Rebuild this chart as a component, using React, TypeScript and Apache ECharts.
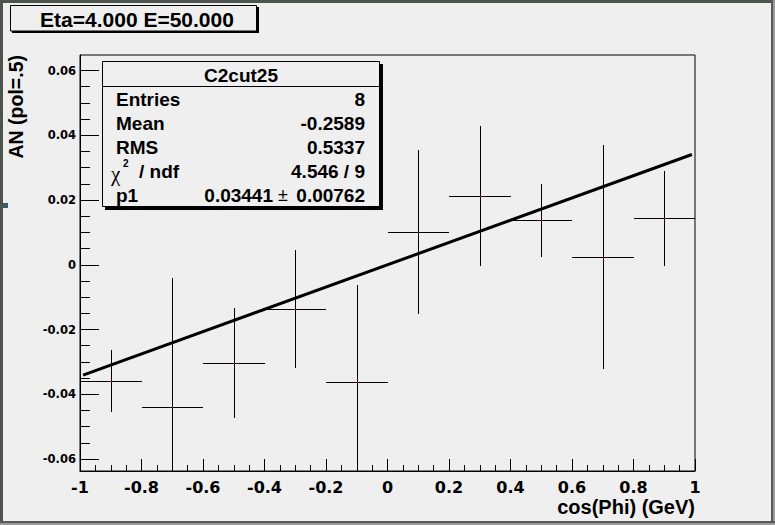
import React, { useEffect, useRef } from "react";
import * as echarts from "echarts";

// ---- data ----
const binCenters = [-0.9, -0.7, -0.5, -0.3, -0.1, 0.1, 0.3, 0.5, 0.7, 0.9];
const anValues = [-0.036, -0.044, -0.0304, -0.0137, -0.0363, 0.0101, 0.0213, 0.0137, 0.0024, 0.0144];
const anErrors = [0.0096, 0.0399, 0.017, 0.0182, 0.0301, 0.0254, 0.0216, 0.0112, 0.0345, 0.0147];
const binHalfWidth = [0.1, 0.1, 0.1, 0.1, 0.1, 0.1, 0.1, 0.1, 0.1, 0.1];

const fitX = [-0.99, 0.99];
const fitY = [-0.03407, 0.03407];

const xTickValues = [-1, -0.8, -0.6, -0.4, -0.2, 0, 0.2, 0.4, 0.6, 0.8, 1];
const xTickLabels = ["-1", "-0.8", "-0.6", "-0.4", "-0.2", "0", "0.2", "0.4", "0.6", "0.8", "1"];
const yTickValues = [-0.06, -0.04, -0.02, 0, 0.02, 0.04, 0.06];
const yTickLabels = ["-0.06", "-0.04", "-0.02", "0", "0.02", "0.04", "0.06"];
const yMinorTickValues = [
  -0.06, -0.055, -0.05, -0.045, -0.04, -0.035, -0.03, -0.025, -0.02, -0.015, -0.01, -0.005, 0,
  0.005, 0.01, 0.015, 0.02, 0.025, 0.03, 0.035, 0.04, 0.045, 0.05, 0.055, 0.06,
];

const statLabels = ["Entries", "Mean", "RMS"];
const statValues = ["8", "-0.2589", "0.5337"];
const chi2Value = "4.546 / 9";
const p1Value = "0.03441";
const p1Error = "0.00762";

const BG = "#efefef";
const SANS = "'Liberation Sans', Arial, sans-serif";
const TICKFONT = "'DejaVu Sans', sans-serif";

function labelFor(values: number[], labels: string[], v: number) {
  let best = 0;
  for (let i = 1; i < values.length; i++) {
    if (Math.abs(values[i] - v) < Math.abs(values[best] - v)) best = i;
  }
  return labels[best];
}

const crisp = (v: number) => Math.round(v) + 0.5;

export default function App() {
  const ref = useRef<HTMLDivElement>(null);

  useEffect(() => {
    document.body.style.margin = "0";
    if (!ref.current) return;
    const chart = echarts.init(ref.current, null, { renderer: "svg" });

    const errData = binCenters.map((x, i) => [x, anValues[i], binHalfWidth[i], anErrors[i]]);

    const statTexts: any[] = [];
    statLabels.forEach((l, i) => {
      statTexts.push({
        type: "text",
        x: 116,
        y: 99 + i * 24,
        style: { text: l, font: `bold 19px ${SANS}`, fill: "#000", align: "left", verticalAlign: "middle" },
      });
      statTexts.push({
        type: "text",
        x: 365,
        y: 99 + i * 24,
        style: { text: statValues[i], font: `bold 19px ${SANS}`, fill: "#000", align: "right", verticalAlign: "middle" },
      });
    });

    const option: any = {
      animation: false,
      backgroundColor: BG,
      grid: {
        left: 80,
        top: 55,
        width: 615,
        height: 416,
        show: true,
        borderColor: "#000",
        borderWidth: 1,
        backgroundColor: "transparent",
        containLabel: false,
      },
      xAxis: {
        type: "value",
        min: -1,
        max: 1,
        interval: 0.2,
        position: "bottom",
        axisLine: { show: true, onZero: false, lineStyle: { color: "#000", width: 1 } },
        axisTick: { show: true, inside: true, length: 12, lineStyle: { color: "#000" } },
        minorTick: { show: true, splitNumber: 4, length: 6, lineStyle: { color: "#000" } },
        splitLine: { show: false },
        axisLabel: {
          show: true,
          margin: 8,
          color: "#000",
          fontFamily: TICKFONT,
          fontWeight: "bold",
          fontSize: 16,
          formatter: (v: number) => labelFor(xTickValues, xTickLabels, v),
        },
      },
      yAxis: [
        {
          type: "value",
          min: -0.0637,
          max: 0.0648,
          position: "left",
          axisLine: { show: true, onZero: false, lineStyle: { color: "#000", width: 1 } },
          axisTick: { show: true, inside: true, length: 19, customValues: yTickValues, lineStyle: { color: "#000" } },
          splitLine: { show: false },
          axisLabel: {
            show: true,
            margin: 4,
            customValues: yTickValues,
            color: "#000",
            fontFamily: TICKFONT,
            fontWeight: "bold",
            fontSize: 11.5,
            formatter: (v: number) => labelFor(yTickValues, yTickLabels, v),
          },
        },
        {
          type: "value",
          min: -0.0637,
          max: 0.0648,
          position: "left",
          offset: 0,
          axisLine: { show: false, onZero: false },
          axisTick: { show: true, inside: true, length: 10, customValues: yMinorTickValues, lineStyle: { color: "#000" } },
          splitLine: { show: false },
          axisLabel: { show: false },
        },
      ],
      series: [
        {
          type: "custom",
          clip: true,
          xAxisIndex: 0,
          yAxisIndex: 0,
          data: errData,
          renderItem: (params: any, api: any) => {
            const x = api.value(0);
            const y = api.value(1);
            const ex = api.value(2);
            const ey = api.value(3);
            const l = api.coord([x - ex, y]);
            const r = api.coord([x + ex, y]);
            const t = api.coord([x, y + ey]);
            const b = api.coord([x, y - ey]);
            const c = api.coord([x, y]);
            const cy = crisp(c[1]);
            const cx = crisp(c[0]);
            return {
              type: "group",
              children: [
                {
                  type: "line",
                  shape: { x1: Math.round(l[0]), y1: cy, x2: Math.round(r[0]), y2: cy },
                  style: { stroke: "#000", lineWidth: 1 },
                },
                {
                  type: "line",
                  shape: { x1: cx, y1: Math.round(t[1]), x2: cx, y2: Math.round(b[1]) },
                  style: { stroke: "#000", lineWidth: 1 },
                },
                {
                  type: "rect",
                  shape: { x: cx - 0.5, y: cy - 0.5, width: 1, height: 1 },
                  style: { fill: "#ff0000" },
                },
              ],
            };
          },
        },
        {
          type: "line",
          xAxisIndex: 0,
          yAxisIndex: 0,
          data: fitX.map((x, i) => [x, fitY[i]]),
          symbol: "none",
          lineStyle: { color: "#000", width: 3 },
          z: 3,
        },
      ],
      graphic: [
        // outer canvas border
        { type: "rect", shape: { x: 0, y: 0, width: 775, height: 3 }, style: { fill: "#4d534d" }, silent: true },
        { type: "rect", shape: { x: 0, y: 0, width: 3, height: 525 }, style: { fill: "#4d534d" }, silent: true },
        { type: "rect", shape: { x: 771, y: 0, width: 2, height: 525 }, style: { fill: "#5a5a5a" }, silent: true },
        { type: "rect", shape: { x: 773, y: 0, width: 2, height: 525 }, style: { fill: "#9a9a9a" }, silent: true },
        { type: "rect", shape: { x: 0, y: 521, width: 775, height: 2 }, style: { fill: "#5a5a5a" }, silent: true },
        { type: "rect", shape: { x: 0, y: 523, width: 775, height: 2 }, style: { fill: "#9a9a9a" }, silent: true },
        { type: "rect", shape: { x: 3, y: 203, width: 5, height: 5 }, style: { fill: "#3f5b66" }, silent: true },
        // title box
        { type: "rect", shape: { x: 12, y: 7, width: 247, height: 26 }, style: { fill: "#000" }, silent: true },
        {
          type: "rect",
          shape: { x: 10.5, y: 5.5, width: 246, height: 25.5 },
          style: { fill: BG, stroke: "#000", lineWidth: 1 },
          silent: true,
        },
        {
          type: "text",
          x: 137,
          y: 19,
          style: { text: "Eta=4.000 E=50.000", font: `bold 21px ${SANS}`, fill: "#000", align: "center", verticalAlign: "middle" },
        },
        // stats box
        { type: "rect", shape: { x: 105, y: 64, width: 278, height: 146 }, style: { fill: "#000" }, silent: true },
        {
          type: "rect",
          shape: { x: 102.5, y: 61.5, width: 277, height: 145 },
          style: { fill: BG, stroke: "#000", lineWidth: 1 },
          silent: true,
        },
        { type: "line", shape: { x1: 102.5, y1: 86.5, x2: 379.5, y2: 86.5 }, style: { stroke: "#000", lineWidth: 1 }, silent: true },
        {
          type: "text",
          x: 241,
          y: 75,
          style: { text: "C2cut25", font: `bold 19px ${SANS}`, fill: "#000", align: "center", verticalAlign: "middle" },
        },
        ...statTexts,
        {
          type: "text",
          x: 111,
          y: 174,
          style: { text: "χ", font: `21px 'Liberation Serif', serif`, fill: "#000", align: "left", verticalAlign: "middle" },
        },
        {
          type: "text",
          x: 123,
          y: 163,
          style: { text: "2", font: `bold 10px ${SANS}`, fill: "#000", align: "left", verticalAlign: "middle" },
        },
        {
          type: "text",
          x: 139,
          y: 171,
          style: { text: "/ ndf", font: `bold 19px ${SANS}`, fill: "#000", align: "left", verticalAlign: "middle" },
        },
        {
          type: "text",
          x: 365,
          y: 171,
          style: { text: chi2Value, font: `bold 19px ${SANS}`, fill: "#000", align: "right", verticalAlign: "middle" },
        },
        {
          type: "text",
          x: 116,
          y: 195,
          style: { text: "p1", font: `bold 19px ${SANS}`, fill: "#000", align: "left", verticalAlign: "middle" },
        },
        {
          type: "text",
          x: 365,
          y: 195,
          style: { text: p1Error, font: `bold 19px ${SANS}`, fill: "#000", align: "right", verticalAlign: "middle" },
        },
        {
          type: "text",
          x: 288,
          y: 195,
          style: { text: "±", font: `18px ${SANS}`, fill: "#000", align: "right", verticalAlign: "middle" },
        },
        {
          type: "text",
          x: 273,
          y: 195,
          style: { text: p1Value, font: `bold 19px ${SANS}`, fill: "#000", align: "right", verticalAlign: "middle" },
        },
        // axis titles
        {
          type: "text",
          x: 16,
          y: 55,
          rotation: Math.PI / 2,
          style: { text: "AN (pol=.5)", font: `bold 19.5px ${SANS}`, fill: "#000", align: "right", verticalAlign: "middle" },
        },
        {
          type: "text",
          x: 695,
          y: 507,
          style: { text: "cos(Phi) (GeV)", font: `bold 20px ${SANS}`, fill: "#000", align: "right", verticalAlign: "middle" },
        },
      ],
    };

    chart.setOption(option);
    return () => chart.dispose();
  }, []);

  return <div ref={ref} style={{ width: 775, height: 525, position: "absolute", left: 0, top: 0 }} />;
}
